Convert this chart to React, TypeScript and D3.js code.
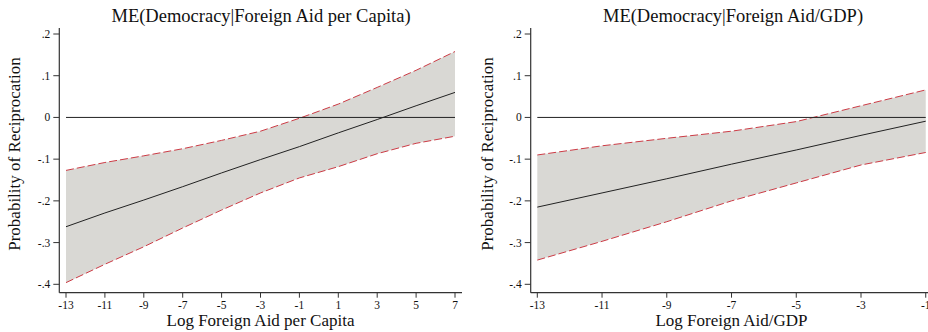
import React from 'react';
import * as d3 from 'd3';

// values
const xLeft = [-13, -11, -9, -7, -5, -3, -1, 1, 3, 5, 7];
const meLeft = [-0.262, -0.229, -0.198, -0.166, -0.133, -0.101, -0.07, -0.037, -0.005, 0.028, 0.06];
const upperLeft = [-0.127, -0.108, -0.092, -0.075, -0.055, -0.033, -0.002, 0.032, 0.072, 0.113, 0.158];
const lowerLeft = [-0.396, -0.352, -0.31, -0.265, -0.222, -0.181, -0.145, -0.118, -0.087, -0.062, -0.045];

const xRight = [-13, -11, -9, -7, -5, -3, -1];
const meRight = [-0.215, -0.181, -0.147, -0.112, -0.078, -0.043, -0.009];
const upperRight = [-0.09, -0.068, -0.05, -0.033, -0.01, 0.028, 0.066];
const lowerRight = [-0.342, -0.297, -0.25, -0.2, -0.157, -0.114, -0.084];

const yTicks = [0.2, 0.1, 0, -0.1, -0.2, -0.3, -0.4];
const yTickLabels = ['.2', '.1', '0', '-.1', '-.2', '-.3', '-.4'];
const xTicksLeft = [-13, -11, -9, -7, -5, -3, -1, 1, 3, 5, 7];
const xTicksRight = [-13, -11, -9, -7, -5, -3, -1];

const FONT = '"Liberation Serif", "DejaVu Serif", serif';
const FILL = '#d9d8d4';
const RED = '#cc3b45';

type PanelProps = {
  title: string;
  xTitle: string;
  xs: number[];
  me: number[];
  lo: number[];
  hi: number[];
  xTicks: number[];
  xDomain: [number, number];
  xRange: [number, number];
  axisX: number;
  axisEnd: number;
  titleX: number;
  yTitleX: number;
};

const Panel = ({ title, xTitle, xs, me, lo, hi, xTicks, xDomain, xRange, axisX, axisEnd, titleX, yTitleX }: PanelProps) => {
  const x = d3.scaleLinear().domain(xDomain).range(xRange);
  const y = d3.scaleLinear().domain([-0.4, 0.2]).range([284.3, 34]);
  const axisY = 292.7;
  const yTop = 28;

  const rows = xs.map((v, i) => ({ x: v, me: me[i], lo: lo[i], hi: hi[i] }));
  const area = d3.area<any>().x(d => x(d.x)).y0(d => y(d.lo)).y1(d => y(d.hi));
  const mid = d3.line<any>().x(d => x(d.x)).y(d => y(d.me));
  const upper = d3.line<any>().x(d => x(d.x)).y(d => y(d.hi));
  const lower = d3.line<any>().x(d => x(d.x)).y(d => y(d.lo));
  const x0 = x(xs[0]);
  const x1 = x(xs[xs.length - 1]);
  const plotMid = (x0 + x1) / 2;

  return (
    <g fontFamily={FONT}>
      <text x={titleX} y={22} textAnchor="middle" fontSize={18.5} fill="#111">{title}</text>
      <path d={area(rows) || ''} fill={FILL} />
      <path d={upper(rows) || ''} fill="none" stroke={RED} strokeWidth={1} strokeDasharray="8,3" />
      <path d={lower(rows) || ''} fill="none" stroke={RED} strokeWidth={1} strokeDasharray="8,3" />
      <line x1={x0} x2={x1} y1={y(0)} y2={y(0)} stroke="#222" strokeWidth={1} />
      <path d={mid(rows) || ''} fill="none" stroke="#222" strokeWidth={1} />
      {/* y axis */}
      <line x1={axisX} x2={axisX} y1={yTop} y2={axisY} stroke="#333" strokeWidth={1.2} />
      {yTicks.map((t, i) => (
        <g key={t}>
          <line x1={axisX - 6} x2={axisX} y1={y(t)} y2={y(t)} stroke="#333" />
          <text x={axisX - 9} y={y(t) + 4} textAnchor="end" fontSize={11.5} fill="#111">{yTickLabels[i]}</text>
        </g>
      ))}
      <text transform={`translate(${yTitleX},${154}) rotate(-90)`} textAnchor="middle" fontSize={17} fill="#111">Probability of Reciprocation</text>
      {/* x axis */}
      <line x1={axisX} x2={axisEnd} y1={axisY} y2={axisY} stroke="#333" strokeWidth={1.2} />
      {xTicks.map(t => (
        <g key={t}>
          <line x1={x(t)} x2={x(t)} y1={axisY} y2={axisY + 5} stroke="#333" />
          <text x={x(t)} y={308.5} textAnchor="middle" fontSize={11.5} fill="#111">{String(t)}</text>
        </g>
      ))}
      <text x={plotMid} y={326} textAnchor="middle" fontSize={17} fill="#111">{xTitle}</text>
    </g>
  );
};

export default function App() {
  return (
    <svg width={928} height={332} style={{ position: 'absolute', left: 0, top: 0, background: '#fff' }}>
      <Panel
        title="ME(Democracy|Foreign Aid per Capita)"
        xTitle="Log Foreign Aid per Capita"
        xs={xLeft} me={meLeft} lo={lowerLeft} hi={upperLeft}
        xTicks={xTicksLeft} xDomain={[-13, 7]} xRange={[66, 455]}
        axisX={59.3} axisEnd={462} titleX={261} yTitleX={20}
      />
      <Panel
        title="ME(Democracy|Foreign Aid/GDP)"
        xTitle="Log Foreign Aid/GDP"
        xs={xRight} me={meRight} lo={lowerRight} hi={upperRight}
        xTicks={xTicksRight} xDomain={[-13, -3]} xRange={[537.3, 861]}
        axisX={530.7} axisEnd={940} titleX={733} yTitleX={493}
      />
    </svg>
  );
}
